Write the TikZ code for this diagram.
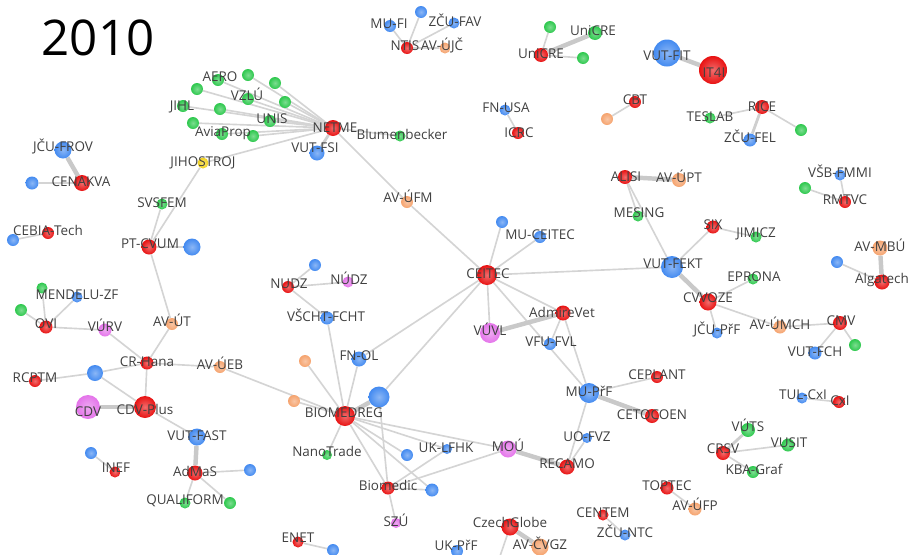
\documentclass[tikz,border=0pt]{standalone}
\usepackage{fontspec}
\setmainfont{Open Sans}
\usetikzlibrary{backgrounds}
\definecolor{nred}{HTML}{E81212}
\definecolor{nblue}{HTML}{438AF0}
\definecolor{ngreen}{HTML}{2DC84D}
\definecolor{norange}{HTML}{F5A36E}
\definecolor{npink}{HTML}{E474EA}
\definecolor{nyellow}{HTML}{F2D21C}

\begin{document}
\begin{tikzpicture}[x=0.03cm,y=-0.03cm,
  vtx/.style={circle,inner sep=0pt,minimum size=#1*0.3mm},
  lbl/.style={inner sep=0pt,text=black!75,text height=8.2pt,text depth=0pt,font=\fontsize{11.5}{13}\selectfont},
  edge/.style={draw=black!17,line width=1.4pt},
  midedge/.style={draw=black!19,line width=2.4pt},
  fatedge/.style={draw=black!21,line width=3.8pt}]
 \useasboundingbox (0,0) rectangle (911,555);
 \node[font=\fontsize{42}{50}\selectfont,inner sep=0pt,text height=30pt,text depth=0pt] (year) at (98,38) {2010};

 % vertices: name/x/y/colour/diameter
 \foreach \n/\x/\y/\c/\d in {
   aero/218/80/ngreen/12, ga/248/75/ngreen/12, gb/197/89/ngreen/12, gc/275/83/ngreen/12,
   vzlu/248/99/ngreen/12, gd/285/102/ngreen/12, jihl/183/106/ngreen/12, ge/220/109/ngreen/12,
   unis/270/121/ngreen/12, gf/193/123/ngreen/12, aviaprop/222/134/ngreen/12, gg/253/136/ngreen/12,
   netme/333/128/nred/16, vutfsi/317/153/nblue/15, jihostroj/203/163/nyellow/11, blumen/400/136/ngreen/11,
   mufi/390/26/nblue/12, bx/421/12/nblue/12, zcufav/454/23/nblue/11, ntis/407/48/nred/12, avujc/445/48/norange/11,
   unicre/541/55/nred/14, gh/550/27/ngreen/12, unicreb/595/33/ngreen/14, gi/583/58/ngreen/12,
   fnusa/505/110/nblue/11, icrc/518/133/nred/12,
   vutfit/667/53/nblue/27, it4i/713/70/nred/28, cbt/635/102/nred/12, oa/607/119/norange/12,
   teslab/710/118/ngreen/11, rice/762/107/nred/14, zcufel/750/140/nblue/13, gj/801/130/ngreen/12,
   alisi/625/177/nred/14, avupt/679/180/norange/14, vsbfmmi/840/175/nblue/11, rmtvc/845/202/nred/12, gk/805/188/ngreen/12,
   jcufrov/63/150/nblue/17, cenakva/82/183/nred/16, ba/32/183/nblue/13,
   svsfem/162/204/ngreen/11, cebia/48/233/nred/12, bb/13/240/nblue/12, ptcvum/149/247/nred/15, bc/192/247/nblue/17,
   mendelu/77/297/nblue/11, gl/42/288/ngreen/11, gm/21/310/ngreen/12, ovi/46/327/nred/13, vurv/105/330/npink/13,
   avut/172/324/norange/12, crhana/147/363/nred/13, avueb/220/367/norange/12, rcptm/35/381/nred/12, bd/95/373/nblue/16,
   cdv/88/407/npink/24, cdvplus/145/407/nred/22, vutfast/197/437/nblue/17, admas/195/473/nred/15, be/250/470/nblue/12,
   qualiform/185/503/ngreen/11, gn/230/503/ngreen/12, inef/115/472/nred/11, bf/91/453/nblue/12,
   enet/298/542/nred/11, bg/333/550/nblue/12,
   ob/305/361/norange/12, oc/294/401/norange/12, fnol/359/359/nblue/15, bh/379/397/nblue/21, biomedreg/345/416/nred/20,
   nanotrade/327/455/ngreen/10, uklfhk/447/449/nblue/10, bi/407/455/nblue/12, biomedic/388/488/nred/13, bj/432/490/nblue/13,
   szu/396/523/npink/10, mou/508/449/npink/17, recamo/567/467/nred/15, uofvz/587/438/nblue/10, mupf/589/393/nblue/20,
   admirevet/563/313/nred/15, vuvl/490/333/npink/20, vfufvl/550/344/nblue/12, ceplant/657/377/nred/12, cetocoen/652/416/nred/14,
   tulcxi/802/398/nblue/11, cxi/839/402/nred/12, vuts/748/430/ngreen/14, crsv/723/453/nred/14, vusit/788/445/ngreen/13,
   kbagraf/753/472/ngreen/12, toptec/667/488/nred/13, avufp/695/509/norange/13, centem/603/515/nred/11, zcuntc/625/535/nblue/11,
   czechglobe/510/527/nred/17, avcvgz/540/547/norange/17, ukpf/457/551/nblue/12,
   avufm/407/202/norange/12, mucei/540/237/nblue/12, bk/502/222/nblue/12, ceitec/487/275/nred/20,
   nudz/288/287/nred/12, bl/315/265/nblue/12, nudzb/348/282/npink/11, vscht/327/318/nblue/13,
   vutfekt/672/267/nblue/22, mesing/638/216/ngreen/11, six/713/227/nred/13, jimicz/756/237/ngreen/11,
   eprona/753/279/ngreen/11, cvvoze/708/302/nred/17, jcupf/717/333/nblue/11, avumch/780/327/norange/13,
   cmv/840/323/nred/14, vutfch/815/353/nblue/13, go/855/345/ngreen/12,
   avmbu/880/248/norange/15, algatech/882/282/nred/15, bm/837/262/nblue/12}
   \node[vtx=\d,inner color=\c!62!white,outer color=\c] (\n) at (\x,\y) {};
 \coordinate (czout) at (498,562);

 \begin{pgfonlayer}{background}
  \foreach \a/\b in {netme/aero, netme/ga, netme/gb, netme/gc, netme/vzlu, netme/gd, netme/jihl, netme/ge,
    netme/unis, netme/gf, netme/aviaprop, netme/gg, netme/jihostroj, netme/blumen, netme/avufm, avufm/ceitec,
    jihostroj/ptcvum, svsfem/ptcvum, ptcvum/bc, ptcvum/avut, avut/crhana,
    mufi/ntis, bx/ntis, zcufav/ntis, ntis/avujc, unicre/gh, unicre/gi, fnusa/icrc, cbt/oa,
    rice/teslab, rice/gj, alisi/mesing, alisi/vutfekt, vsbfmmi/rmtvc, gk/rmtvc,
    ba/cenakva, cebia/bb, ovi/gl, ovi/gm, ovi/mendelu, ovi/vurv, vurv/crhana, crhana/avueb, crhana/cdvplus,
    bd/crhana, rcptm/bd, bd/cdvplus, cdvplus/vutfast, admas/be, admas/qualiform, admas/gn, inef/bf, enet/bg,
    avueb/biomedreg, ob/biomedreg, oc/biomedreg, fnol/biomedreg, vscht/biomedreg, biomedreg/nanotrade,
    biomedreg/uklfhk, biomedreg/mou, biomedreg/bi, biomedreg/biomedic, biomedreg/bj,
    bh/biomedic, bh/ceitec, fnol/ceitec, biomedic/uklfhk, biomedic/mou, biomedic/bj, biomedic/szu,
    recamo/mupf, recamo/uofvz, ceitec/mucei, ceitec/bk, ceitec/vuvl, ceitec/admirevet, ceitec/mupf, ceitec/vutfekt,
    admirevet/vfufvl, admirevet/mupf, mupf/ceplant, nudz/bl, nudz/nudzb, nudz/vscht,
    vutfekt/six, six/jimicz, cvvoze/eprona, cvvoze/jcupf, cvvoze/avumch, avumch/cmv, cmv/vutfch, cmv/go,
    bm/algatech, tulcxi/cxi, crsv/vusit, crsv/kbagraf, toptec/avufp, centem/zcuntc, czechglobe/czout}
    \draw[edge] (\a) -- (\b);
  \foreach \a/\b in {netme/vutfsi, rice/zcufel, crsv/vuts}
    \draw[midedge] (\a) -- (\b);
  \foreach \a/\b in {vutfit/it4i, unicre/unicreb, alisi/avupt, jcufrov/cenakva, cdv/cdvplus, vutfast/admas,
    biomedreg/bh, mou/recamo, vuvl/admirevet, mupf/cetocoen, vutfekt/cvvoze, avmbu/algatech, czechglobe/avcvgz}
    \draw[fatedge] (\a) -- (\b);
 \end{pgfonlayer}

 % labels: x/y/text
 \foreach \x/\y/\t in {220/77/AERO, 247/96/VZLÚ, 182/106/JIHL, 272/119/UNIS, 223/132/AviaProp, 335/128/NETME,
   315/148/VUT-FSI, 203/162/JIHOSTROJ, 402/135/Blumenbecker, 389/24/MU-FI, 455/22/ZČU-FAV, 405/46/NTIS,
   442/46/AV-ÚJČ, 541/54/UniCRE, 593/31/UniCRE, 506/108/FN-USA, 519/133/ICRC, 667/56/VUT-FIT, 714/73/IT4I,
   635/100/CBT, 710/117/TESLAB, 762/107/RICE, 750/138/ZČU-FEL, 626/177/ALISI, 679/178/AV-ÚPT,
   840/173/VŠB-FMMI, 845/200/RMTVC, 63/147/JČU-FROV, 81/182/CENAKVA, 162/203/SVSFEM, 48/231/CEBIA-Tech,
   150/244/PT-CVUM, 77/295/MENDELU-ZF, 46/324/OVI, 105/327/VÚRV, 172/322/AV-ÚT, 147/362/CR-Hana,
   220/365/AV-ÚEB, 35/378/RCPTM, 88/412/CDV, 145/410/CDV-Plus, 197/436/VUT-FAST, 116/468/INEF,
   195/472/AdMaS, 185/500/QUALIFORM, 298/538/ENET, 327/452/NanoTrade, 344/413/BIOMEDREG, 446/448/UK-LFHK,
   508/447/MOÚ, 388/486/Biomedic, 396/522/SZÚ, 510/523/CzechGlobe, 540/545/AV-ČVGZ, 456/546/UK-PřF,
   567/464/RECAMO, 587/437/UO-FVZ, 589/392/MU-PřF, 657/375/CEPLANT, 652/415/CETOCOEN, 803/395/TUL-CxI,
   840/401/CxI, 748/427/VÚTS, 723/449/CRSV, 789/443/VUSIT, 754/470/KBA-Graf, 667/486/TOPTEC, 695/506/AV-ÚFP,
   603/513/CENTEM, 625/533/ZČU-NTC, 408/198/AV-ÚFM, 540/235/MU-CEITEC, 488/274/CEITEC, 289/284/NUDZ,
   349/280/NÚDZ, 326/317/VŠCHT-FCHT, 562/313/AdmireVet, 490/331/VÚVL, 551/342/VFU-FVL, 359/356/FN-OL,
   673/264/VUT-FEKT, 639/213/MESING, 713/225/SIX, 756/233/JIMICZ, 754/277/EPRONA, 708/298/CVVOZE,
   717/330/JČU-PřF, 780/325/AV-ÚMCH, 841/321/CMV, 815/352/VUT-FCH, 880/247/AV-MBÚ, 882/279/Algatech}
   \node[lbl] at (\x,\y) {\t};
\end{tikzpicture}
\end{document}
